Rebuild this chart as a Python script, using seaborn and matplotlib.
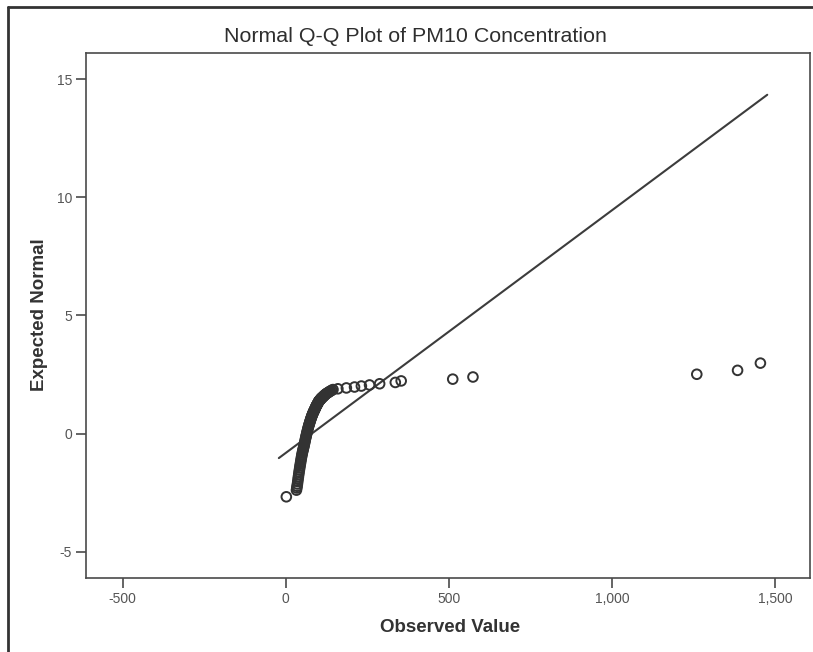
import numpy as np
import pandas as pd
import matplotlib
matplotlib.use("Agg")
import matplotlib.pyplot as plt
import seaborn as sns
from matplotlib.ticker import FuncFormatter
from statistics import NormalDist

# PM10 concentration (observed values) and how often each value occurs
concentration = [
    2, 33, 34, 35, 36, 37, 38, 39, 40, 41, 42,
    43, 44, 45, 46, 47, 48, 49, 50, 51, 52, 53, 54, 55, 56,
    57, 58, 59, 60, 61, 62, 63, 64, 65, 66, 67, 68, 69, 70,
    71, 72, 73, 74, 75, 76, 77, 78, 79, 80, 81, 82, 83, 84,
    85, 86, 87, 88, 89, 90, 91, 92, 93, 94, 95, 96, 97, 98,
    99, 100, 101, 102, 103, 104, 105, 106, 107, 108, 109, 110,
    112, 113, 115, 116, 118, 119, 121, 123, 125,
    128, 131, 134, 137, 141, 145, 160,
    186, 211, 232, 257, 288, 336, 354, 512, 574, 1260, 1385, 1455,
]
frequency = [
    3, 1, 1, 1, 2, 2, 3, 3, 4, 4, 5,
    5, 6, 6, 7, 8, 8, 8, 8, 8, 8, 8, 8, 8, 9,
    10, 10, 11, 11, 11, 10, 10, 10, 10, 10, 9, 9, 9, 8,
    8, 7, 7, 7, 7, 6, 6, 6, 5, 5, 5, 4, 4, 4,
    4, 3, 3, 3, 3, 3, 3, 3, 3, 2, 2, 2, 2, 2,
    2, 2, 2, 1, 1, 1, 1, 1, 1, 1, 1, 1,
    1, 1, 1, 1, 1, 1, 1, 1, 1,
    1, 1, 1, 1, 1, 1, 1,
    1, 1, 1, 1, 1, 1, 1, 1, 1, 1, 1, 1,
]

# Fitted normal reference line (mean, sd) and its extent on the observed axis
line_mean = 80.0
line_sd = 97.4
line_extent = [-21, 1476]

x_ticks = [-500, 0, 500, 1000, 1500]
y_ticks = [-5, 0, 5, 10, 15]

# Expected normal scores (Blom), ties get their mean rank
obs = pd.Series(np.repeat(concentration, frequency), name="Observed Value")
n = len(obs)
ranks = obs.rank(method="average")
nd = NormalDist()
expected = [nd.inv_cdf((r - 3 / 8) / (n + 1 / 4)) for r in ranks]
qq = pd.DataFrame({"Observed Value": obs, "Expected Normal": expected}).drop_duplicates()

line_df = pd.DataFrame({"x": line_extent})
line_df["y"] = (line_df["x"] - line_mean) / line_sd

sns.set_style("white")
plt.rcParams["font.family"] = ["Liberation Sans", "DejaVu Sans"]
plt.rcParams["axes.unicode_minus"] = False

W, H = 813, 652
fig = plt.figure(figsize=(W / 100, H / 100), dpi=100)
fig.patch.set_facecolor("white")
ax = fig.add_axes([86 / W, 1 - 578 / H, (810 - 86) / W, (578 - 53) / H])

sns.lineplot(data=line_df, x="x", y="y", ax=ax, color="#3c3c3c", linewidth=1.5,
             estimator=None, sort=False)
sns.scatterplot(data=qq, x="Observed Value", y="Expected Normal", ax=ax,
                marker="o", s=48, facecolor="none", edgecolor="#333333",
                linewidth=1.4, zorder=3)

ax.set_xlim(-612, 1607)
ax.set_ylim(-6.11, 16.1)
ax.set_xticks(x_ticks)
ax.set_yticks(y_ticks)
ax.xaxis.set_major_formatter(FuncFormatter(lambda v, p: f"{int(v):,}"))
ax.yaxis.set_major_formatter(FuncFormatter(lambda v, p: f"{int(v)}"))
ax.set_xlabel("")
ax.set_ylabel("")

for s in ax.spines.values():
    s.set_visible(True)
    s.set_color("#4a4a4a")
    s.set_linewidth(1.2)
ax.tick_params(axis="both", which="major", direction="out", length=7, width=1.2,
               color="#4a4a4a", labelcolor="#555555", labelsize=10,
               bottom=True, left=True, top=False, right=False, pad=3)

fig.text(415 / W, 1 - 37 / H, "Normal Q-Q Plot of PM10 Concentration",
         ha="center", va="center", fontsize=15.4, color="#2e2e2e")
fig.text(450 / W, 1 - 628 / H, "Observed Value", ha="center", va="center",
         fontsize=13.5, fontweight="bold", color="#333333")
fig.text(40 / W, 1 - 315 / H, "Expected Normal", ha="center", va="center",
         rotation=90, fontsize=13.5, fontweight="bold", color="#333333")

# Outer chart frame (top and left edges fall inside the canvas)
fig.add_artist(plt.Line2D([8 / W, 1.0], [1 - 7 / H, 1 - 7 / H],
                          transform=fig.transFigure, color="#333333", linewidth=2))
fig.add_artist(plt.Line2D([8 / W, 8 / W], [0.0, 1 - 7 / H],
                          transform=fig.transFigure, color="#333333", linewidth=2))

fig.savefig("out.png", dpi=100)
